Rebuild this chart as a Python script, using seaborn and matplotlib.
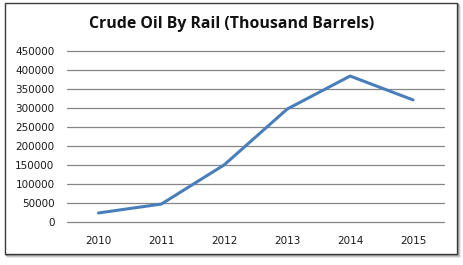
import matplotlib
matplotlib.use("Agg")
import matplotlib.pyplot as plt
from matplotlib.patches import Rectangle
import seaborn as sns
import pandas as pd

years = ["2010", "2011", "2012", "2013", "2014", "2015"]
barrels = [23000, 46500, 150000, 297000, 384000, 321000]
yticks = [0, 50000, 100000, 150000, 200000, 250000, 300000, 350000, 400000, 450000]
title = "Crude Oil By Rail (Thousand Barrels)"

sns.set_theme(style="white")
plt.rcParams["font.family"] = ["DejaVu Sans"]

W, H = 464, 265
fig = plt.figure(figsize=(W / 100, H / 100), dpi=100)
fig.patch.set_facecolor("white")

# chart frame with soft shadow
for i, a in enumerate([0.10, 0.18, 0.28]):
    off = 3 - i
    fig.patches.append(Rectangle(((5 + off) / W, 1 - (254 + off) / H), (452) / W, (251) / H,
                                 transform=fig.transFigure, facecolor="none",
                                 edgecolor=(0, 0, 0, a), lw=1.2, zorder=0))
fig.patches.append(Rectangle((5 / W, 1 - 254 / H), 452 / W, 251 / H,
                             transform=fig.transFigure, facecolor="white",
                             edgecolor="#3a3a3a", lw=1.0, zorder=1))

ax = fig.add_axes([67 / W, 1 - 221.7 / H, (444.5 - 67) / W, (221.7 - 51) / H])
ax.set_facecolor("none")
ax.set_zorder(2)

df = pd.DataFrame({"year": years, "value": barrels})
sns.lineplot(data=df, x="year", y="value", ax=ax, color="#4A7EBB", lw=2.2,
             sort=False)

ax.set_ylim(0, 450000)
ax.set_xlim(-0.5, len(years) - 0.5)
ax.set_yticks(yticks)
ax.set_yticklabels([str(v) for v in yticks])
ax.set_xticks(range(len(years)))
ax.set_xticklabels(years)
ax.yaxis.grid(True, color="#868686", lw=0.9)
ax.xaxis.grid(False)
ax.set_axisbelow(True)
for gl in ax.get_ygridlines():
    gl.set_clip_on(False)
for s in ax.spines.values():
    s.set_visible(False)
ax.tick_params(axis="both", length=0, labelsize=7.5, colors="#1a1a1a")
ax.tick_params(axis="y", pad=9)
ax.tick_params(axis="x", pad=10)
ax.set_xlabel("")
ax.set_ylabel("")

fig.text(232 / W, 1 - 23.5 / H, title, ha="center", va="center",
         fontsize=11.4, fontweight="bold", family=["Open Sans", "DejaVu Sans"],
         color="#111111", zorder=3)

fig.savefig("out.png", dpi=100)
